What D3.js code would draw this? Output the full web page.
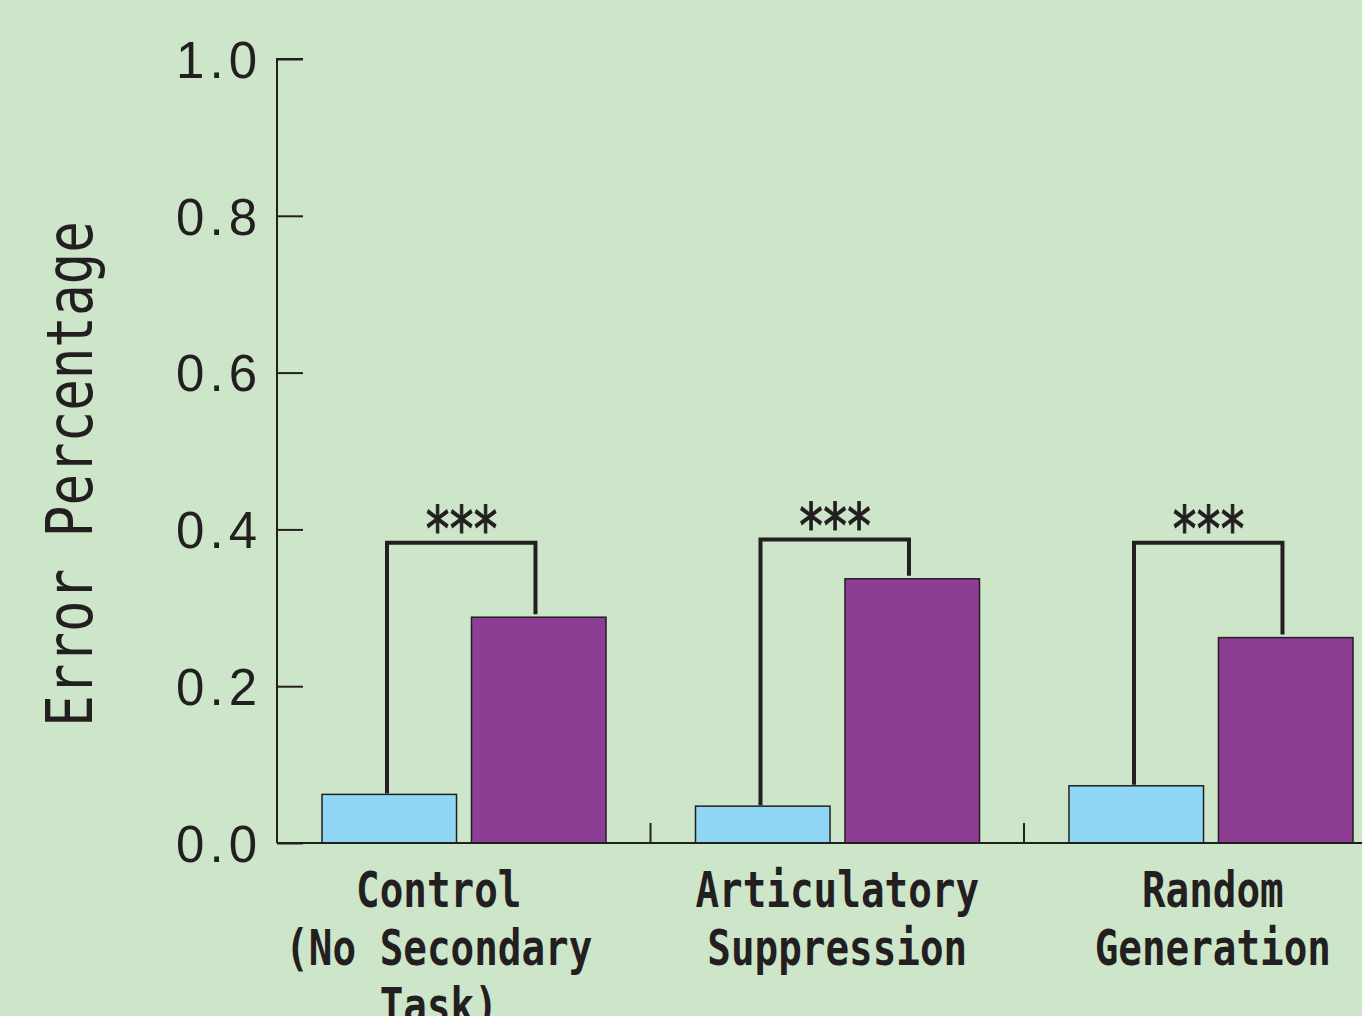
<!DOCTYPE html>
<html>
<head>
<meta charset="utf-8">
<style>
body { margin: 0; background: #cde6ca; }
svg { display: block; }
.axis path, .axis line { stroke: #231f20; stroke-width: 2px; }
.axis text { font-family: "Liberation Sans", sans-serif; font-size: 51px; fill: #231f20; letter-spacing: 5px; }
.cat-label { font-family: "DejaVu Sans Mono", monospace; font-weight: bold; font-size: 50px; fill: #231f20; }
.y-title { font-family: "DejaVu Sans Mono", monospace; font-size: 64px; fill: #231f20; }
.stars { font-family: "DejaVu Sans Mono", monospace; font-size: 56px; fill: #231f20; stroke: #231f20; stroke-width: 1px; letter-spacing: -5.5px; }
</style>
</head>
<body>
<svg width="1362" height="1016"></svg>
<script src="https://cdn.jsdelivr.net/npm/d3@7"></script>
<script>
// categories and their label lines
var categories = ["Control", "Articulatory Suppression", "Random Generation"];
var categoryLines = [
  ["Control", "(No Secondary", "Task)"],
  ["Articulatory", "Suppression"],
  ["Random", "Generation"]
];
var series = ["low", "high"];
var seriesColors = ["#8fd7f5", "#8c3e95"];

// error percentage per category (blue bar, purple bar)
var lowValues = [0.062, 0.047, 0.073];
var highValues = [0.288, 0.337, 0.262];
// bracket heights and significance marks
var bracketValues = [0.383, 0.387, 0.383];
var sigLabels = ["***", "***", "***"];

var yTicks = [0, 0.2, 0.4, 0.6, 0.8, 1.0];

var svg = d3.select("svg");
var plotLeft = 277, plotBottom = 843, plotTop = 59;
var step = 373.5;

var y = d3.scaleLinear().domain([0, 1]).range([plotBottom, plotTop]);
var x0 = d3.scaleBand().domain(categories).range([plotLeft, plotLeft + step * categories.length]);
var x1 = d3.scaleBand().domain(series).range([45, 329]).paddingInner(0.1);

// bars
categories.forEach(function(c, i) {
  var g = svg.append("g").attr("transform", "translate(" + x0(c) + ",0)");
  var vals = [lowValues[i], highValues[i]];
  g.selectAll("rect")
    .data(series)
    .enter().append("rect")
      .attr("x", function(s) { return x1(s); })
      .attr("y", function(s, j) { return y(vals[j]); })
      .attr("width", x1.bandwidth())
      .attr("height", function(s, j) { return y(0) - y(vals[j]); })
      .attr("fill", function(s, j) { return seriesColors[j]; })
      .attr("stroke", "#231f20")
      .attr("stroke-width", 1.5);

  // significance bracket
  var xa = x1("low") + 65, xb = x1("high") + 64;
  var yt = y(bracketValues[i]);
  g.append("path")
    .attr("d", "M" + xa + "," + (y(vals[0]) - 1) + "V" + yt + "H" + xb + "V" + (y(vals[1]) - 3))
    .attr("fill", "none")
    .attr("stroke", "#231f20")
    .attr("stroke-width", 4);
  g.append("text")
    .attr("class", "stars")
    .attr("text-anchor", "middle")
    .attr("transform", "translate(" + ((xa + xb) / 2 - 2) + "," + (yt + 8) + ") scale(0.85,1.1)")
    .text(sigLabels[i]);
});

// y axis
var yAxis = d3.axisLeft(y)
  .tickValues(yTicks)
  .tickFormat(d3.format(".1f"))
  .tickSize(-26)
  .tickPadding(15);
var ya = svg.append("g")
  .attr("class", "axis")
  .attr("transform", "translate(" + plotLeft + ",0)")
  .call(yAxis);
ya.select(".domain").attr("d", "M26," + plotTop + "H0V" + plotBottom);
ya.selectAll(".tick text").attr("dy", "0.36em");

// x axis line and category separators
svg.append("line")
  .attr("x1", plotLeft).attr("x2", 1362)
  .attr("y1", plotBottom).attr("y2", plotBottom)
  .attr("stroke", "#231f20").attr("stroke-width", 2);
svg.selectAll(".sep")
  .data(categories.slice(1))
  .enter().append("line")
    .attr("class", "sep")
    .attr("x1", function(c) { return x0(c); })
    .attr("x2", function(c) { return x0(c); })
    .attr("y1", plotBottom).attr("y2", plotBottom - 20)
    .attr("stroke", "#231f20").attr("stroke-width", 2);

// category labels
var labelShift = [-25, 0, 2];
categories.forEach(function(c, i) {
  var cx = x0(c) + x0.bandwidth() / 2 + labelShift[i];
  var t = svg.append("text")
    .attr("class", "cat-label")
    .attr("text-anchor", "middle")
    .attr("transform", "translate(" + cx + ",907) scale(0.785,1)");
  categoryLines[i].forEach(function(line, k) {
    t.append("tspan").attr("x", 0).attr("y", k * 58).text(line);
  });
});

// y title
svg.append("text")
  .attr("class", "y-title")
  .attr("text-anchor", "middle")
  .attr("transform", "translate(92,474) rotate(-90) scale(0.82,1)")
  .text("Error Percentage");
</script>
</body>
</html>
